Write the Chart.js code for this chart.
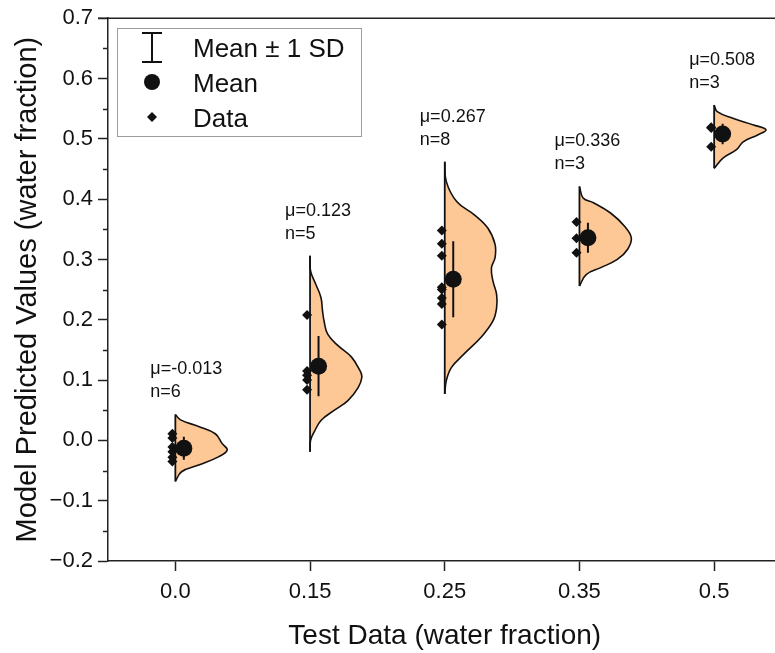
<!DOCTYPE html>
<html>
<head>
<meta charset="utf-8">
<title>Model predictions by water fraction</title>
<script src="https://cdn.jsdelivr.net/npm/chart.js@4.4.1/dist/chart.umd.min.js"></script>
<style>
  html, body { margin: 0; padding: 0; background: #fff; overflow: hidden; }
  #wrap { width: 790px; height: 653px; }
</style>
</head>
<body>
<div id="wrap"><canvas id="violinChart" width="790" height="653"></canvas></div>
<script>
document.addEventListener("DOMContentLoaded", () => {

    // ── Datos ──
    const groups = ['0.0', '0.15', '0.25', '0.35', '0.5'];
    const means  = [-0.013, 0.123, 0.267, 0.336, 0.508];
    const sds    = [0.019, 0.050, 0.063, 0.025, 0.017];
    const counts = [6, 5, 8, 3, 3];

    // predicciones individuales de cada grupo
    const samples = [
        [0.011, 0.004, -0.011, -0.019, -0.028, -0.035],
        [0.208, 0.115, 0.108, 0.100, 0.084],
        [0.348, 0.326, 0.306, 0.254, 0.250, 0.236, 0.226, 0.192],
        [0.362, 0.335, 0.311],
        [0.519, 0.518, 0.487],
    ];

    // contorno de densidad (valor, densidad relativa) de cada medio violín
    const kdeValues = [
        [0.043, 0.034, 0.023, 0.011, -0.005, -0.016, -0.027, -0.041, -0.052, -0.068],
        [0.306, 0.281, 0.259, 0.237, 0.215, 0.198, 0.176, 0.157, 0.138, 0.116, 0.105, 0.088, 0.066, 0.050, 0.033, 0.014, 0.000, -0.019],
        [0.462, 0.429, 0.396, 0.374, 0.352, 0.325, 0.303, 0.286, 0.264, 0.242, 0.220, 0.198, 0.171, 0.143, 0.121, 0.099, 0.077],
        [0.421, 0.402, 0.394, 0.377, 0.355, 0.336, 0.317, 0.300, 0.286, 0.275, 0.256],
        [0.556, 0.545, 0.534, 0.523, 0.515, 0.506, 0.495, 0.482, 0.468, 0.451],
    ];
    const kdeDensity = [
        [0, 0.10, 0.45, 0.77, 0.90, 1.00, 0.84, 0.45, 0.12, 0],
        [0, 0.01, 0.11, 0.21, 0.24, 0.27, 0.34, 0.54, 0.80, 0.96, 1.00, 0.93, 0.73, 0.47, 0.21, 0.08, 0.01, 0],
        [0, 0.03, 0.23, 0.57, 0.83, 0.97, 0.97, 0.90, 0.93, 1.00, 1.00, 0.93, 0.70, 0.37, 0.13, 0.03, 0],
        [0, 0.07, 0.27, 0.60, 0.87, 1.00, 0.93, 0.73, 0.40, 0.13, 0],
        [0, 0.06, 0.36, 0.76, 1.00, 0.83, 0.56, 0.43, 0.17, 0],
    ];

    // Estilos
    const ink = '#111111';
    const violinFill = '#fdc796';
    const fontFamily = 'Arial, "Liberation Sans", sans-serif';
    const halfWidth = 0.385;   // ancho del violín (unidades de categoría) con densidad 1
    const meanShift = 0.063;
    const dataShift = -0.022;

    Chart.defaults.font.family = fontFamily;
    Chart.defaults.color = ink;

    const datasets = [];
    groups.forEach((g, i) => {
        const cx = i + 1;
        const vals = kdeValues[i];
        // medio violín relleno
        datasets.push({
            type: 'line',
            data: vals.map((v, k) => ({ x: cx + kdeDensity[i][k] * halfWidth, y: v })),
            borderColor: ink,
            borderWidth: 1.6,
            backgroundColor: violinFill,
            fill: 'shape',
            tension: 0.4,
            pointRadius: 0,
            order: 4,
        });
        // línea base del violín
        datasets.push({
            type: 'line',
            data: [{ x: cx, y: vals[0] }, { x: cx, y: vals[vals.length - 1] }],
            borderColor: ink,
            borderWidth: 1.8,
            pointRadius: 0,
            fill: false,
            order: 3,
        });
        // media ± 1 SD
        datasets.push({
            type: 'line',
            data: [{ x: cx + meanShift, y: means[i] - sds[i] }, { x: cx + meanShift, y: means[i] + sds[i] }],
            borderColor: ink,
            borderWidth: 2,
            pointRadius: 0,
            fill: false,
            order: 2,
        });
    });

    datasets.push({
        type: 'scatter',
        data: means.map((m, i) => ({ x: i + 1 + meanShift, y: m })),
        pointRadius: 8.5,
        pointBackgroundColor: ink,
        pointBorderWidth: 0,
        order: 0,
    });

    datasets.push({
        type: 'scatter',
        data: samples.flatMap((arr, i) => arr.map(v => ({ x: i + 1 + dataShift, y: v }))),
        pointStyle: 'rectRot',
        pointRadius: 5,
        pointBackgroundColor: ink,
        pointBorderWidth: 0,
        order: 1,
    });

    // Leyenda, marco superior, ticks menores y etiquetas μ / n
    const decorations = {
        id: 'decorations',
        afterDraw(chart) {
            const { ctx, chartArea: area, scales: { x, y } } = chart;
            ctx.save();

            ctx.strokeStyle = '#222';
            ctx.lineWidth = 1.5;
            ctx.beginPath();
            ctx.moveTo(area.left - 10, area.top);
            ctx.lineTo(area.right, area.top);
            ctx.stroke();

            // ticks menores del eje Y
            ctx.beginPath();
            for (let k = 0; k < 9; k++) {
                const py = Math.round(y.getPixelForValue(-0.15 + k * 0.1)) + 0.5;
                ctx.moveTo(area.left - 5, py);
                ctx.lineTo(area.left, py);
            }
            ctx.stroke();

            // etiquetas sobre cada violín
            ctx.fillStyle = ink;
            ctx.font = '18px ' + fontFamily;
            ctx.textAlign = 'left';
            ctx.textBaseline = 'alphabetic';
            groups.forEach((g, i) => {
                const px = x.getPixelForValue(i + 1) - 25;
                const top = y.getPixelForValue(kdeValues[i][0]);
                ctx.fillText('\u03bc=' + means[i].toFixed(3), px, top - 40);
                ctx.fillText('n=' + counts[i], px, top - 17);
            });

            // leyenda
            const lx = 152;
            ctx.strokeStyle = '#9c9c9c';
            ctx.lineWidth = 1;
            ctx.strokeRect(117.5, 28.5, 244, 108);

            ctx.strokeStyle = ink;
            ctx.lineWidth = 2;
            ctx.beginPath();
            ctx.moveTo(lx, 33); ctx.lineTo(lx, 62);
            ctx.moveTo(lx - 10, 33); ctx.lineTo(lx + 10, 33);
            ctx.moveTo(lx - 10, 62); ctx.lineTo(lx + 10, 62);
            ctx.stroke();

            ctx.beginPath();
            ctx.arc(lx, 82, 8, 0, Math.PI * 2);
            ctx.fill();

            ctx.beginPath();
            ctx.moveTo(lx, 112); ctx.lineTo(lx + 5, 117); ctx.lineTo(lx, 122); ctx.lineTo(lx - 5, 117);
            ctx.closePath();
            ctx.fill();

            ctx.font = '26px ' + fontFamily;
            ctx.fillText('Mean \u00b1 1 SD', 193, 57);
            ctx.fillText('Mean', 193, 92);
            ctx.fillText('Data', 193, 127);

            ctx.restore();
        }
    };

    const ctx = document.getElementById('violinChart');
    new Chart(ctx, {
        type: 'scatter',
        data: { datasets },
        plugins: [decorations],
        options: {
            responsive: false,
            animation: false,
            layout: { padding: { top: 16, right: 7, left: 0, bottom: 0 } },
            plugins: {
                legend: { display: false },
                tooltip: { enabled: false },
            },
            scales: {
                x: {
                    type: 'linear',
                    min: 0.5,
                    max: 5.5,
                    afterBuildTicks: scale => { scale.ticks = groups.map((g, i) => ({ value: i + 1 })); },
                    afterFit: scale => { scale.height = 92; },
                    ticks: {
                        callback: (v, idx) => groups[idx],
                        font: { size: 22 },
                        color: ink,
                        padding: 8,
                        maxRotation: 0,
                    },
                    grid: { drawOnChartArea: false, tickLength: 10, tickColor: '#222', tickWidth: 1.5 },
                    border: { color: '#222', width: 1.5 },
                    title: {
                        display: true,
                        text: 'Test Data (water fraction)',
                        font: { size: 28 },
                        color: ink,
                        padding: { top: 0, bottom: 0 },
                    },
                },
                y: {
                    min: -0.2,
                    max: 0.7,
                    afterFit: scale => { scale.width = 108; },
                    ticks: {
                        stepSize: 0.1,
                        callback: v => (v < -1e-9 ? '\u2212' : '') + Math.abs(v).toFixed(1),
                        font: { size: 22 },
                        color: ink,
                        padding: 5,
                    },
                    grid: { drawOnChartArea: false, tickLength: 10, tickColor: '#222', tickWidth: 1.5 },
                    border: { color: '#222', width: 1.5 },
                    title: {
                        display: true,
                        text: 'Model Predicted Values (water fraction)',
                        font: { size: 29 },
                        color: ink,
                        padding: { top: 11, bottom: 0 },
                    },
                },
            },
        },
    });

});
</script>
</body>
</html>
